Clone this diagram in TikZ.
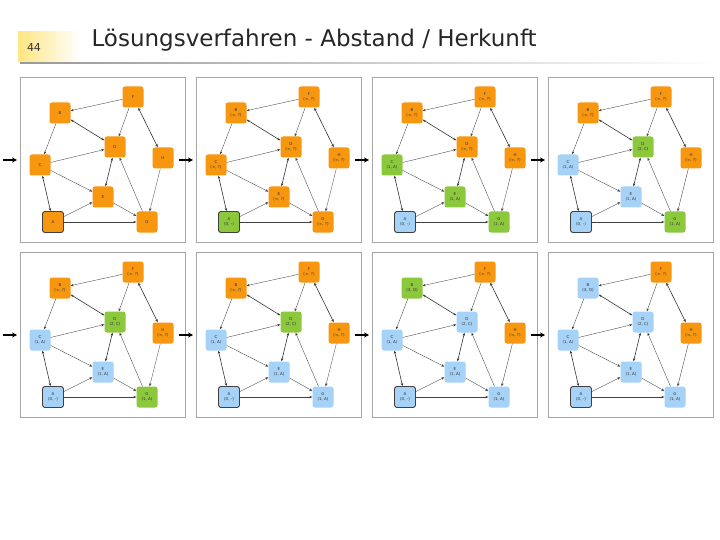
\documentclass[tikz,border=0pt]{standalone}
\usepackage{fontspec}
\setmainfont{DejaVu Sans}
\usetikzlibrary{arrows.meta}
\definecolor{orn}{HTML}{F7960F}
\definecolor{grn}{HTML}{8CC83C}
\definecolor{blu}{HTML}{A6D2F7}
\tikzset{
 nd/.style={rounded corners=2.5pt,minimum width=21pt,minimum height=21pt,inner sep=0pt,align=center,font=\fontsize{4}{5}\selectfont,text=black!80},
 start/.style={draw=black!75,line width=0.9pt},
 ed/.style={-{Stealth[length=3pt,width=2.4pt]},line width=0.35pt,black!75},
 ded/.style={{Stealth[length=3pt,width=2.4pt]}-{Stealth[length=3pt,width=2.4pt]},line width=0.6pt,black!80},
 frame/.style={draw=black!35,line width=0.6pt},
 entry/.style={-{Stealth[length=5pt,width=5pt]},line width=1.4pt}
}
\newcommand\drawpanel[3]{%
 \begin{scope}[shift={(#2,#3)}]
 \draw[frame] (0,0) rectangle (165,165);
 \coordinate (#1in) at (-3,83);
 \coordinate (#1out) at (-17,83);
 \node[nd,fill=\cA,start] (#1A) at (33,145) {A\ifx\lA\empty\else\\\lA\fi};
 \node[nd,fill=\cB] (#1B) at (40,36) {B\ifx\lB\empty\else\\\lB\fi};
 \node[nd,fill=\cC] (#1C) at (20,88) {C\ifx\lC\empty\else\\\lC\fi};
 \node[nd,fill=\cD] (#1D) at (95,70) {D\ifx\lD\empty\else\\\lD\fi};
 \node[nd,fill=\cE] (#1E) at (83,120) {E\ifx\lE\empty\else\\\lE\fi};
 \node[nd,fill=orn] (#1F) at (113,20) {F\ifx\lF\empty\else\\\lF\fi};
 \node[nd,fill=\cG] (#1G) at (127,145) {G\ifx\lG\empty\else\\\lG\fi};
 \node[nd,fill=orn] (#1H) at (143,81) {H\ifx\lH\empty\else\\\lH\fi};
 \draw[ed] (#1F) -- (#1B);
 \draw[ed] (#1F) -- (#1D);
 \draw[ded] (#1F) -- (#1H);
 \draw[ded] (#1B) -- (#1D);
 \draw[ed] (#1B) -- (#1C);
 \draw[ed] (#1C) -- (#1D);
 \draw[ed] (#1C) -- (#1E);
 \draw[ded] (#1C) -- (#1A);
 \draw[ed] (#1A) -- (#1E);
 \draw[ed] (#1A) -- (#1G);
 \draw[ded] (#1E) -- (#1D);
 \draw[ed] (#1E) -- (#1G);
 \draw[ed] (#1G) -- (#1D);
 \draw[ed] (#1H) -- (#1G);
 \draw[entry] (#1out) -- (#1in);
 \end{scope}}
\newcommand\setcols[6]{\def\cA{#1}\def\cB{#2}\def\cC{#3}\def\cD{#4}\def\cE{#5}\def\cG{#6}}
\newcommand\setlabsA[4]{\def\lA{#1}\def\lB{#2}\def\lC{#3}\def\lD{#4}}
\newcommand\setlabsB[4]{\def\lE{#1}\def\lF{#2}\def\lG{#3}\def\lH{#4}}
\begin{document}
\begin{tikzpicture}[x=1pt,y=-1pt]
\useasboundingbox[fill=white] (0,0) rectangle (720,540);
\shade[left color=yellow!60!orange!50,right color=white] (18,32) rectangle (80,62);
\node[font=\fontsize{11}{13}\selectfont,text=black!80] (num) at (34,47) {44};
\node[anchor=west,font=\fontsize{23}{27}\selectfont,text=black!85] (title) at (88,40) {Lösungsverfahren - Abstand / Herkunft};
\shade[left color=black!40,right color=white] (20,63) rectangle (720,63.8);
\def\inf{(∞, ?)}
% panel 1
\setcols{orn}{orn}{orn}{orn}{orn}{orn}
\setlabsA{}{}{}{}\setlabsB{}{}{}{}
\drawpanel{pa}{20}{77}
% panel 2
\setcols{grn}{orn}{orn}{orn}{orn}{orn}
\setlabsA{(0, -)}{\inf}{\inf}{\inf}\setlabsB{\inf}{\inf}{\inf}{\inf}
\drawpanel{pb}{196}{77}
% panel 3
\setcols{blu}{orn}{grn}{orn}{grn}{grn}
\setlabsA{(0, -)}{\inf}{(1, A)}{\inf}\setlabsB{(1, A)}{\inf}{(1, A)}{\inf}
\drawpanel{pc}{372}{77}
% panel 4
\setcols{blu}{orn}{blu}{grn}{blu}{grn}
\setlabsA{(0, -)}{\inf}{(1, A)}{(2, C)}\setlabsB{(1, A)}{\inf}{(1, A)}{\inf}
\drawpanel{pd}{548}{77}
% panel 5
\setcols{blu}{orn}{blu}{grn}{blu}{grn}
\drawpanel{pe}{20}{252}
% panel 6
\setcols{blu}{orn}{blu}{grn}{blu}{blu}
\drawpanel{pf}{196}{252}
% panel 7
\setcols{blu}{grn}{blu}{blu}{blu}{blu}
\setlabsA{(0, -)}{(3, D)}{(1, A)}{(2, C)}
\drawpanel{pg}{372}{252}
% panel 8
\setcols{blu}{blu}{blu}{blu}{blu}{blu}
\drawpanel{ph}{548}{252}
\end{tikzpicture}
\end{document}
